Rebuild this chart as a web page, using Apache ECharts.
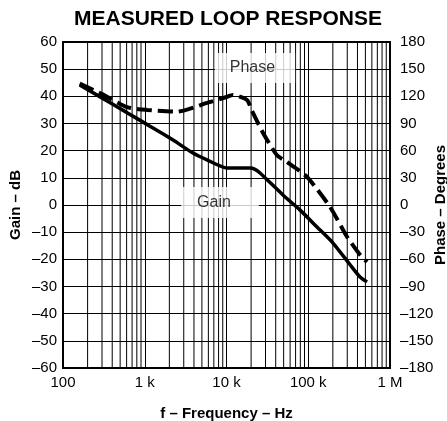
<!DOCTYPE html>
<html>
<head>
<meta charset="utf-8">
<script src="https://cdn.jsdelivr.net/npm/echarts@6/dist/echarts.min.js"></script>
<style>
  html, body { margin: 0; padding: 0; background: #fff; }
  #chart { width: 447px; height: 421px; }
</style>
</head>
<body>
<div id="chart"></div>
<script>
// values
var gainFreq = [160, 285, 607, 1100, 2220, 3890, 5770, 10100, 19400, 22000, 25700, 49000, 79000, 128000, 201000, 325000, 430000, 524000];
var gainDb = [44.2, 39.8, 34, 29.4, 23.9, 19.1, 16.6, 13.6, 13.6, 13.2, 11.8, 3.7, -1.8, -8.1, -14, -22, -26.5, -28.3];

var phaseFreq = [160, 300, 607, 1070, 2480, 5770, 10000, 12000, 17800, 20500, 28000, 41500, 55000, 96500, 184500, 298000, 430000, 524000];
var phaseDeg = [134, 122.4, 108, 105, 103, 112.7, 119.3, 121.5, 116, 104, 79.5, 55, 47.5, 31, -2, -35, -55, -63];

var freqTicks = [100, 1000, 10000, 100000, 1000000];
var freqTickLabels = ['100', '1 k', '10 k', '100 k', '1 M'];

// minor log grid lines (2..9 of each decade)
var minorFreqs = [];
[100, 1000, 10000, 100000].forEach(function (d) {
    for (var m = 2; m <= 9; m++) minorFreqs.push(d * m);
});

function pairs(xs, ys) {
    var out = [];
    for (var i = 0; i < xs.length; i++) out.push([xs[i], ys[i]]);
    return out;
}

function dash(v) {
    return String(v).replace('-', '\u2013');
}

var chart = echarts.init(document.getElementById('chart'));
var font = 'Liberation Sans, Arial, Helvetica, sans-serif';
var nameStyle = { fontFamily: font, fontSize: 15, fontWeight: 'bold', color: '#000' };

// each minor grid line is a two-point vertical line series
var gridSeries = minorFreqs.map(function (f) {
    return {
        type: 'line',
        z: 1,
        silent: true,
        showSymbol: false,
        lineStyle: { color: '#000', width: 1 },
        data: [[f, -60], [f, 60]]
    };
});

option = {
    animation: false,
    backgroundColor: '#fff',
    textStyle: { fontFamily: font, color: '#000' },
    title: {
        text: 'MEASURED LOOP RESPONSE',
        left: 223,
        textAlign: 'center',
        top: 4,
        textStyle: { fontFamily: font, fontSize: 21, fontWeight: 'bold', color: '#000' }
    },
    grid: {
        left: 63,
        right: 57,
        top: 42,
        bottom: 53,
        containLabel: false,
        outerBoundsMode: 'none',
        show: true,
        borderColor: '#000',
        borderWidth: 2,
        backgroundColor: 'transparent'
    },
    xAxis: {
        type: 'log',
        logBase: 10,
        min: 100,
        max: 1000000,
        name: 'f \u2013 Frequency \u2013 Hz',
        nameLocation: 'middle',
        nameGap: 38,
        nameMoveOverlap: false,
        nameTextStyle: nameStyle,
        axisLine: { show: true, onZero: false, lineStyle: { color: '#000', width: 2 } },
        axisTick: { show: false },
        axisLabel: {
            fontFamily: font, fontSize: 15, color: '#000', margin: 7,
            formatter: function (v) {
                var i = freqTicks.indexOf(Math.round(v));
                return i >= 0 ? freqTickLabels[i] : '';
            }
        },
        splitLine: { show: true, lineStyle: { color: '#000', width: 1 } }
    },
    yAxis: [{
        type: 'value',
        min: -60,
        max: 60,
        interval: 10,
        position: 'left',
        name: 'Gain \u2013 dB',
        nameLocation: 'middle',
        nameGap: 40,
        nameMoveOverlap: false,
        nameTextStyle: nameStyle,
        axisLine: { show: true, onZero: false, lineStyle: { color: '#000', width: 2 } },
        axisTick: { show: false },
        axisLabel: { fontFamily: font, fontSize: 15, color: '#000', margin: 6, formatter: dash },
        splitLine: { show: true, lineStyle: { color: '#000', width: 1 } }
    }, {
        type: 'value',
        min: -180,
        max: 180,
        interval: 30,
        position: 'right',
        name: 'Phase \u2013 Degrees',
        nameLocation: 'middle',
        nameGap: 43,
        nameRotate: 90,
        nameMoveOverlap: false,
        nameTextStyle: nameStyle,
        axisLine: { show: true, onZero: false, lineStyle: { color: '#000', width: 2 } },
        axisTick: { show: false },
        axisLabel: { fontFamily: font, fontSize: 15, color: '#000', margin: 10, formatter: dash },
        splitLine: { show: false }
    }],
    series: gridSeries.concat([{
        name: 'notes',
        type: 'scatter',
        symbolSize: 1,
        itemStyle: { color: '#fff' },
        zlevel: 1,
        z: 3,
        silent: true,
        label: {
            show: true,
            position: 'inside',
            fontFamily: font,
            fontSize: 16,
            color: '#000',
            backgroundColor: '#fff',
            formatter: function (p) { return p.name; }
        },
        data: [
            { name: 'Phase', value: [22300, 50.4], label: { padding: [7, 20, 7, 15] } },
            { name: 'Gain', value: [8320, 0.9], label: { padding: [8, 28, 7, 16] } }
        ]
    }, {
        name: 'Gain',
        type: 'line',
        yAxisIndex: 0,
        zlevel: 1,
        z: 4,
        showSymbol: false,
        smooth: 0.2,
        lineStyle: { color: '#000', width: 3.5 },
        data: pairs(gainFreq, gainDb)
    }, {
        name: 'Phase',
        type: 'line',
        yAxisIndex: 1,
        zlevel: 1,
        z: 4,
        showSymbol: false,
        smooth: 0.2,
        lineStyle: { color: '#000', width: 4, type: [15, 6] },
        data: pairs(phaseFreq, phaseDeg)
    }])
};

chart.setOption(option);
</script>
</body>
</html>
